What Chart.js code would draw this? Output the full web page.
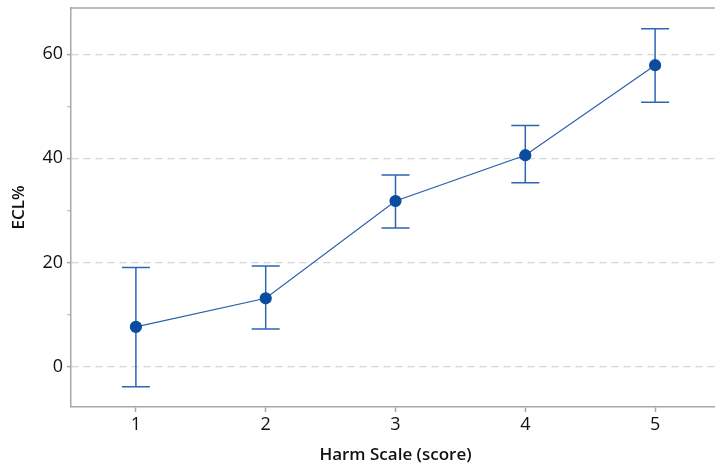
<!DOCTYPE html>
<html>
<head>
<meta charset="utf-8">
<script src="https://cdn.jsdelivr.net/npm/chart.js@4/dist/chart.umd.min.js"></script>
<style>
  html, body { margin: 0; padding: 0; background: #fff; overflow: hidden; }
  #wrap { width: 730px; height: 465px; }
</style>
</head>
<body>
<div id="wrap"><canvas id="c" width="730" height="465"></canvas></div>
<script>
// Data
const scores = [1, 2, 3, 4, 5];
const eclMean = [7.6, 13.1, 31.8, 40.6, 57.9];
const eclUpper = [19.0, 19.3, 36.8, 46.3, 64.9];
const eclLower = [-3.9, 7.2, 26.6, 35.3, 50.8];
const yMajorTicks = [0, 20, 40, 60];
const yMinorTicks = [10, 30, 50];

const FONT = '"Open Sans", "Noto Sans", sans-serif';
const FRAME = '#a8a8a8';

const errorBars = {
  id: 'errorBars',
  beforeDatasetsDraw(chart) {
    const ctx = chart.ctx;
    const xs = chart.scales.x, ys = chart.scales.y;
    ctx.save();
    ctx.strokeStyle = '#2f66b3';
    ctx.lineWidth = 1.5;
    scores.forEach((s, i) => {
      const x = xs.getPixelForValue(s);
      const yt = ys.getPixelForValue(eclUpper[i]);
      const yb = ys.getPixelForValue(eclLower[i]);
      ctx.beginPath();
      ctx.moveTo(x, yt); ctx.lineTo(x, yb);
      ctx.moveTo(x - 14, yt); ctx.lineTo(x + 14, yt);
      ctx.moveTo(x - 14, yb); ctx.lineTo(x + 14, yb);
      ctx.stroke();
    });
    ctx.restore();
  }
};

const frame = {
  id: 'frame',
  afterDraw(chart) {
    const {ctx, chartArea: a} = chart;
    ctx.save();
    ctx.strokeStyle = FRAME;
    ctx.lineWidth = 1.5;
    ctx.beginPath();
    ctx.moveTo(a.left, a.top); ctx.lineTo(a.right, a.top);
    ctx.lineTo(a.right, a.bottom);
    ctx.stroke();
    ctx.restore();
  }
};

new Chart(document.getElementById('c'), {
  type: 'line',
  data: {
    datasets: [{
      data: scores.map((s, i) => ({x: s, y: eclMean[i]})),
      borderColor: '#2a5fae',
      borderWidth: 1.2,
      pointBackgroundColor: '#0a4c9e',
      pointBorderColor: '#0a4c9e',
      pointRadius: 5.5,
      pointHoverRadius: 5.5,
      tension: 0,
      fill: false
    }]
  },
  options: {
    responsive: false,
    animation: false,
    events: [],
    layout: { padding: { top: 8, right: 10, left: 0, bottom: 0 } },
    plugins: { legend: { display: false }, tooltip: { enabled: false } },
    scales: {
      x: {
        type: 'linear',
        min: 0.5,
        max: 5.5,
        afterBuildTicks(axis) { axis.ticks = scores.map(v => ({value: v})); },
        afterFit(axis) { axis.height = 58; },
        grid: { drawOnChartArea: false, drawTicks: true, tickLength: 5, tickColor: FRAME, tickWidth: 1.5 },
        border: { color: FRAME, width: 1.5 },
        ticks: { color: '#111', font: { family: FONT, size: 18, weight: '500' }, padding: 2 },
        title: { display: true, text: 'Harm Scale (score)', color: '#111',
                 font: { family: FONT, size: 17, weight: '600' }, padding: { top: 2, bottom: 0 } }
      },
      y: {
        min: -7.8,
        max: 68.9,
        afterBuildTicks(axis) {
          axis.ticks = yMajorTicks.concat(yMinorTicks).sort((a, b) => a - b).map(v => ({value: v}));
        },
        afterFit(axis) { axis.width = 71; axis.paddingTop = 0; axis.paddingBottom = 0; },
        grid: {
          color: c => (yMajorTicks.includes(c.tick && c.tick.value) ? '#d6d6d6' : 'rgba(0,0,0,0)'),
          lineWidth: 1.2,
          tickColor: c => (yMajorTicks.includes(c.tick && c.tick.value) ? FRAME : '#c8c8c8'),
          tickLength: 4,
          tickWidth: 1.5
        },
        border: { color: FRAME, width: 1.5, dash: [7, 5] },
        ticks: {
          color: '#111',
          font: { family: FONT, size: 18, weight: '500' },
          padding: 4,
          callback: v => (yMajorTicks.includes(v) ? String(v) : '')
        },
        title: { display: true, text: 'ECL%', color: '#111',
                 font: { family: FONT, size: 17, weight: '600' }, padding: { top: 9, bottom: 0 } }
      }
    }
  },
  plugins: [errorBars, frame]
});
</script>
</body>
</html>
